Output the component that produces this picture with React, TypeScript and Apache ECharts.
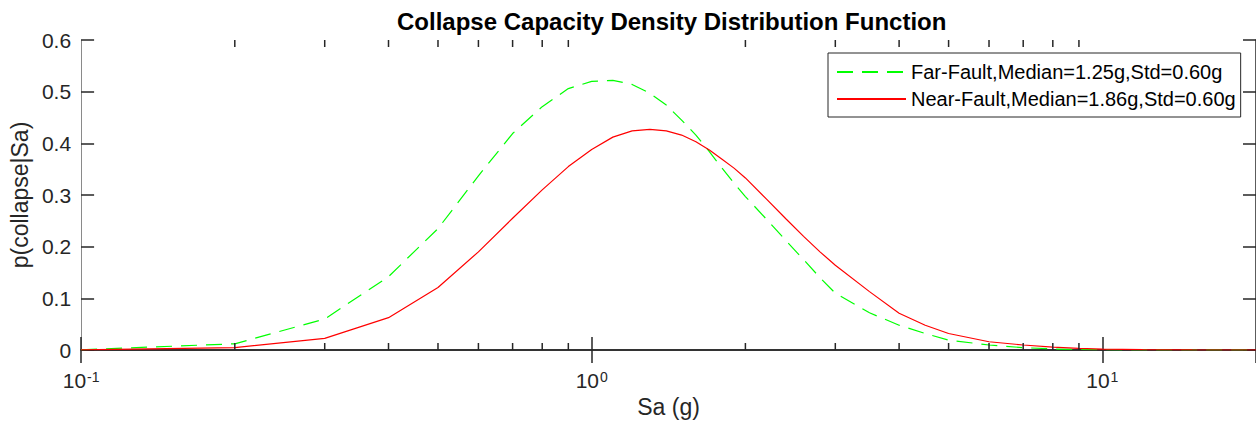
import React, { useEffect, useRef } from "react";
import * as echarts from "echarts";

const sa = [0.1, 0.2, 0.3, 0.4, 0.5, 0.6, 0.7, 0.8, 0.9, 1.0, 1.1, 1.2, 1.3, 1.4, 1.5, 1.6, 1.7, 1.8, 1.9, 2.0, 2.2, 2.4, 2.6, 2.8, 3.0, 3.5, 4, 4.5, 5, 6, 7, 8, 9, 10, 12, 15, 20];
const farFault = [0.0005, 0.012, 0.06, 0.142, 0.235, 0.337, 0.419, 0.471, 0.506, 0.52, 0.522, 0.514, 0.497, 0.474, 0.445, 0.416, 0.384, 0.352, 0.323, 0.297, 0.253, 0.212, 0.175, 0.14, 0.11, 0.072, 0.048, 0.032, 0.019, 0.0097, 0.0045, 0.002, 0.001, 0.0005, 0.0001, 0, 0];
const nearFault = [0.0001, 0.0045, 0.0226, 0.0626, 0.121, 0.19, 0.255, 0.31, 0.355, 0.388, 0.412, 0.424, 0.427, 0.424, 0.416, 0.403, 0.387, 0.369, 0.352, 0.333, 0.292, 0.254, 0.22, 0.19, 0.164, 0.113, 0.071, 0.048, 0.032, 0.016, 0.0097, 0.0055, 0.003, 0.0018, 0.0006, 0.0001, 0];
const minorTicks = [0.2, 0.3, 0.4, 0.5, 0.6, 0.7, 0.8, 0.9, 2, 3, 4, 5, 6, 7, 8, 9];
const farName = "Far-Fault,Median=1.25g,Std=0.60g";
const nearName = "Near-Fault,Median=1.86g,Std=0.60g";
const titleText = "Collapse Capacity Density Distribution Function";
const xName = "Sa (g)";
const yName = "p(collapse|Sa)";

const FONT = "'Liberation Sans', Arial, Helvetica, sans-serif";
const AX = "#262626";

export default function App() {
  const ref = useRef<HTMLDivElement>(null);
  useEffect(() => {
    if (!ref.current) return;
    const chart = echarts.init(ref.current, undefined, { renderer: "svg" });
    const xFmt = (v: number) => {
      const l = Math.log10(v);
      const e = Math.round(l);
      if (Math.abs(l - e) > 1e-6) return "";
      return `{b|10}{s|${e}}`;
    };
    const logAxisBase = {
      type: "log" as const,
      logBase: 10,
      min: 0.1,
      max: 20,
      splitLine: { show: false },
      minorTick: { show: false },
      axisLine: { show: true, lineStyle: { color: AX, width: 1.5 } },
      axisTick: { show: true, inside: true, length: 13, lineStyle: { color: AX, width: 1.5 } },
    };
    chart.setOption({
      animation: false,
      backgroundColor: "#ffffff",
      textStyle: { fontFamily: FONT },
      title: {
        text: titleText,
        left: 392,
        top: 4,
        textStyle: { fontFamily: FONT, fontSize: 24, fontWeight: "bold", color: "#000" },
      },
      legend: {
        orient: "vertical",
        left: 828,
        top: 53,
        padding: [9, 5, 8, 8],
        itemGap: 7,
        itemWidth: 69,
        itemHeight: 14,
        borderColor: AX,
        borderWidth: 1,
        backgroundColor: "#fff",
        itemStyle: { opacity: 0 },
        textStyle: { fontFamily: FONT, fontSize: 20, color: "#000" },
        data: [farName, nearName],
      },
      grid: { left: 78, top: 40, width: 1181, height: 310, containLabel: false },
      xAxis: [
        {
          ...logAxisBase,
          position: "bottom",
          name: xName,
          nameLocation: "middle",
          nameGap: 45,
          nameTextStyle: { fontFamily: FONT, fontSize: 23, color: AX },
          axisLabel: {
            show: true,
            margin: 20,
            showMaxLabel: false,
            formatter: xFmt,
            rich: {
              b: { fontFamily: FONT, fontSize: 21, color: AX, verticalAlign: "bottom" },
              s: { fontFamily: FONT, fontSize: 14, color: AX, verticalAlign: "top", padding: [0, 0, 0, 1] },
            },
          },
        },
        {
          ...logAxisBase,
          position: "top",
          axisLabel: { show: false },
        },
      ],
      yAxis: [
        {
          type: "value",
          min: 0,
          max: 0.6,
          interval: 0.1,
          position: "left",
          name: yName,
          nameLocation: "middle",
          nameGap: 42,
          nameTextStyle: { fontFamily: FONT, fontSize: 23, color: AX },
          splitLine: { show: false },
          axisLine: { show: true, lineStyle: { color: "#8a8a8a", width: 1 } },
          axisTick: { show: true, inside: true, length: 13, lineStyle: { color: AX, width: 1.5 } },
          axisLabel: {
            margin: 10,
            fontFamily: FONT,
            fontSize: 21,
            color: AX,
            formatter: (v: number) => (v === 0 ? "0" : v.toFixed(1)),
          },
        },
        {
          type: "value",
          min: 0,
          max: 0.6,
          interval: 0.1,
          position: "right",
          splitLine: { show: false },
          axisLine: { show: true, lineStyle: { color: AX, width: 1.5 } },
          axisTick: { show: true, inside: true, length: 13, lineStyle: { color: AX, width: 1.5 } },
          axisLabel: { show: false },
        },
      ],
      series: [
        {
          name: farName,
          type: "line",
          xAxisIndex: 0,
          yAxisIndex: 0,
          showSymbol: false,
          symbol: "none",
          data: sa.map((x, i) => [x, farFault[i]]),
          lineStyle: { color: "#00ff00", width: 1.2, type: [16, 9] },
          itemStyle: { color: "#00ff00" },
          z: 3,
        },
        {
          name: nearName,
          type: "line",
          xAxisIndex: 0,
          yAxisIndex: 0,
          showSymbol: false,
          symbol: "none",
          data: sa.map((x, i) => [x, nearFault[i]]),
          lineStyle: { color: "#ff0000", width: 1.2, type: "solid" },
          itemStyle: { color: "#ff0000" },
          z: 4,
        },
        {
          type: "custom",
          xAxisIndex: 0,
          yAxisIndex: 0,
          silent: true,
          clip: false,
          data: minorTicks.map((v) => [v, 0]),
          renderItem: (params: any, api: any) => {
            const v = api.value(0);
            const b = api.coord([v, 0]);
            const t = api.coord([v, 0.6]);
            const st = { stroke: AX, lineWidth: 1.5 };
            return {
              type: "group",
              children: [
                { type: "line", shape: { x1: b[0], y1: b[1], x2: b[0], y2: b[1] - 7 }, style: st },
                { type: "line", shape: { x1: t[0], y1: t[1], x2: t[0], y2: t[1] + 7 }, style: st },
              ],
            };
          },
          z: 5,
        },
      ],
    });
    return () => chart.dispose();
  }, []);
  return (
    <div
      ref={ref}
      style={{ position: "absolute", left: 0, top: 0, width: 1256, height: 425, background: "#fff" }}
    />
  );
}
